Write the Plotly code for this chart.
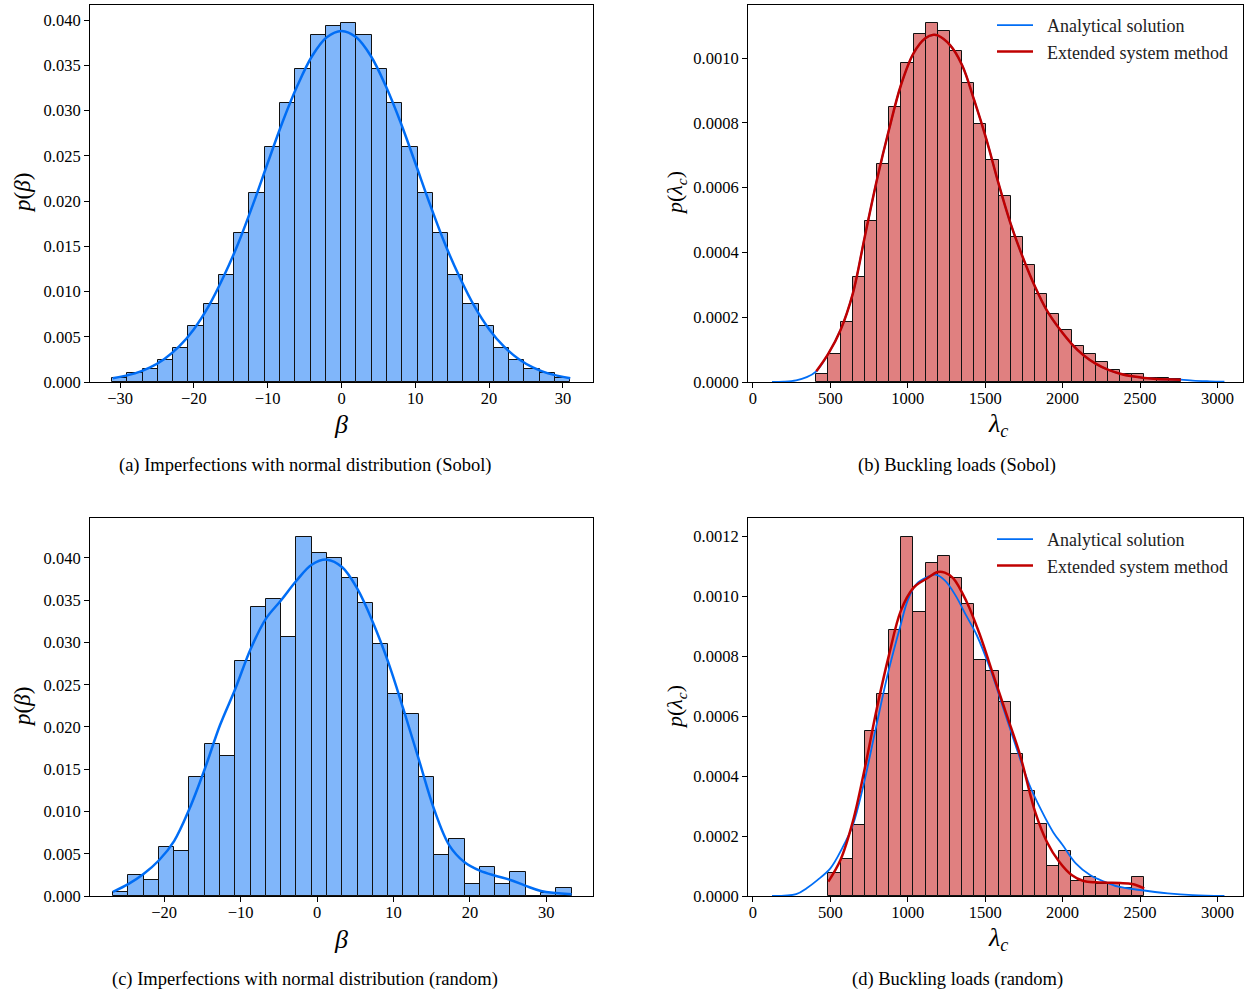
import plotly.graph_objects as go

W, H = 1244, 994

# ---------------- data ----------------
# (a) Imperfections, Sobol: histogram
a_bin_start = -31.1
a_bin_width = 2.07
a_density = [0.00048, 0.00096, 0.0014, 0.0024, 0.0038, 0.0062, 0.0086, 0.0118, 0.0165, 0.0209,
             0.0260, 0.0308, 0.0346, 0.0384, 0.0393, 0.0397, 0.0384, 0.0346, 0.0308, 0.0260,
             0.0209, 0.0165, 0.0118, 0.0086, 0.0062, 0.0038, 0.0024, 0.0014, 0.00096, 0.00048]
a_kde_x = [-31, -28, -26, -24, -22, -20, -18, -16, -14, -12, -10, -8, -6, -4, -2, 0,
           2, 4, 6, 8, 10, 12, 14, 16, 18, 20, 22, 24, 26, 28, 31]
a_kde_y = [0.00041, 0.00095, 0.00158, 0.00254, 0.00393, 0.00584, 0.00838, 0.0116, 0.0153, 0.0196,
           0.0242, 0.0287, 0.0327, 0.0360, 0.0381, 0.0388, 0.0381, 0.0360, 0.0327, 0.0287,
           0.0242, 0.0196, 0.0153, 0.0116, 0.00838, 0.00584, 0.00393, 0.00254, 0.00158, 0.00095, 0.00041]

# (b) Buckling loads, Sobol
b_bin_start = 409
b_bin_width = 78.5
b_density = [0.0000237, 0.0000865, 0.000185, 0.000324, 0.000497, 0.000674, 0.000848, 0.000986,
             0.001073, 0.001109, 0.001084, 0.001023, 0.000923, 0.000797, 0.000686, 0.000573,
             0.000448, 0.000360, 0.000273, 0.000210, 0.000162, 0.000111, 0.0000865, 0.0000628,
             0.0000381, 0.0000257, 0.0000237, 0.0000134, 0.0000113, 0.0000103]
b_ext_x = [409, 487, 565, 645, 722, 800, 878, 956, 1036, 1113, 1166, 1193, 1273, 1351, 1429,
           1509, 1586, 1664, 1742, 1822, 1898, 1978, 2058, 2135, 2213, 2292, 2371, 2449, 2527,
           2606, 2764]
b_ext_y = [0.000033, 0.0000875, 0.00016, 0.000273, 0.000448, 0.000623, 0.000778, 0.000917,
           0.001014, 0.001061, 0.001072, 0.00107, 0.00104, 0.000978, 0.00087, 0.000747, 0.000613,
           0.000489, 0.000386, 0.000294, 0.000221, 0.000165, 0.000118, 0.0000824, 0.0000566,
           0.0000381, 0.0000257, 0.0000175, 0.0000124, 0.0000093, 0.0000072]
b_ana_x = [123, 200, 279, 347, 409, 487, 565, 645, 722, 800, 878, 956, 1036, 1113, 1166, 1193,
           1273, 1351, 1429, 1509, 1586, 1664, 1742, 1822, 1898, 1978, 2058, 2135, 2213, 2292,
           2371, 2449, 2527, 2606, 2764, 2840, 2950, 3045]
b_ana_y = [0.0, 0.000001, 0.000005, 0.000015, 0.000033, 0.0000875, 0.00016, 0.000273, 0.000448,
           0.000623, 0.000778, 0.000917, 0.001014, 0.001061, 0.001072, 0.00107, 0.00104, 0.000978,
           0.00087, 0.000747, 0.000613, 0.000489, 0.000386, 0.000294, 0.000221, 0.000165,
           0.000118, 0.0000824, 0.0000566, 0.0000381, 0.0000257, 0.0000175, 0.0000124,
           0.0000093, 0.0000072, 0.000004, 0.000002, 0.000001]

# (c) Imperfections, random
c_bin_start = -26.7
c_bin_width = 2.0
c_density = [0.00043, 0.00245, 0.00193, 0.0058, 0.0053, 0.0141, 0.0180, 0.0166, 0.0278, 0.0342,
             0.0351, 0.0307, 0.0425, 0.0406, 0.0400, 0.0376, 0.0347, 0.0298, 0.0239, 0.0215,
             0.0141, 0.0048, 0.0068, 0.0014, 0.0034, 0.0014, 0.0028, 0.0, 0.0004, 0.0009]
c_kde_x = [-26.7, -24.7, -22.7, -20.7, -18.7, -16.7, -14.7, -12.7, -10.7, -8.7, -6.7, -4.7,
           -2.7, -0.7, 1.3, 3.3, 5.3, 7.3, 9.3, 11.3, 13.3, 15.3, 17.3, 19.3, 21.3, 23.3, 25.3,
           27.3, 29.3, 33.3]
c_kde_y = [0.0005, 0.0014, 0.0026, 0.0042, 0.0065, 0.0103, 0.0150, 0.0202, 0.0245, 0.0292,
           0.0328, 0.0350, 0.0373, 0.0392, 0.0398, 0.0389, 0.0363, 0.0324, 0.0277, 0.0221,
           0.0162, 0.0103, 0.0060, 0.0040, 0.0030, 0.0024, 0.0019, 0.0012, 0.0006, 0.0002]

# (d) Buckling loads, random
d_bin_start = 487
d_bin_width = 78.5
d_density = [0.0000755, 0.000125, 0.000236, 0.000549, 0.000675, 0.000886, 0.001198, 0.000947,
             0.00111, 0.001135, 0.001061, 0.000972, 0.000787, 0.000749, 0.000648, 0.000475,
             0.00035, 0.000239, 0.000101, 0.00015, 0.000051, 0.0000633, 0.0000388, 0.0000388,
             0.0000255, 0.0000633]
d_ana_x = [123, 279, 347, 416, 500, 576, 645, 714, 793, 874, 953, 1000, 1056, 1125, 1178, 1239,
           1308, 1376, 1445, 1531, 1617, 1703, 1782, 1862, 1940, 2000, 2085, 2177, 2268, 2360,
           2500, 2680, 2840, 3045]
d_ana_y = [0.0, 0.000006, 0.000026, 0.000053, 0.000092, 0.000159, 0.000236, 0.00037, 0.000558,
           0.000747, 0.000902, 0.000986, 0.00104, 0.001063, 0.001071, 0.001052, 0.001002,
           0.000936, 0.00087, 0.000759, 0.000626, 0.000492, 0.000375, 0.000286, 0.000212,
           0.00017, 0.000109, 0.00007, 0.000048, 0.000031, 0.00002, 0.000009, 0.000003, 0.0]
d_ext_x = [487, 565, 645, 722, 800, 878, 956, 1036, 1079, 1113, 1193, 1239, 1294, 1380, 1466,
           1552, 1639, 1725, 1822, 1898, 1978, 2058, 2135, 2213, 2292, 2371, 2449, 2527]
d_ext_y = [0.000048, 0.00012, 0.000248, 0.000425, 0.000625, 0.000802, 0.000952, 0.001027,
           0.001045, 0.001055, 0.00108, 0.001078, 0.001059, 0.000981, 0.00087, 0.000737,
           0.000603, 0.00047, 0.000281, 0.000181, 0.000114, 0.00007, 0.00005, 0.0000455,
           0.0000444, 0.0000433, 0.00004, 0.0000255]

captions = ["(a) Imperfections with normal distribution (Sobol)",
            "(b) Buckling loads (Sobol)",
            "(c) Imperfections with normal distribution (random)",
            "(d) Buckling loads (random)"]
legend_names = ["Analytical solution", "Extended system method"]

# ---------------- styling ----------------
BLUE = "#006DF5"
BLUE_FILL = "#80B6FA"
RED = "#C00000"
RED_FILL = "#E08080"
EDGE = "#111111"
SERIF = "Liberation Serif"
NB = "\u00a0\u00a0"  # small gap between legend line and text


def centers(start, width, n):
    return [start + width * (i + 0.5) for i in range(n)]


fig = go.Figure()


def add_hist(start, width, dens, fill, xa, ya):
    fig.add_trace(go.Bar(
        x=centers(start, width, len(dens)), y=dens, width=width,
        marker=dict(color=fill, line=dict(color=EDGE, width=1)),
        xaxis=xa, yaxis=ya, showlegend=False, hoverinfo="skip"))


def add_line(xs, ys, color, lw, xa, ya, name=None, legend=None):
    fig.add_trace(go.Scatter(
        x=xs, y=ys, mode="lines", line=dict(color=color, width=lw, shape="spline", smoothing=1.0),
        xaxis=xa, yaxis=ya, name=(NB + name) if name else None, showlegend=name is not None,
        legend=legend if legend else "legend"))


add_hist(a_bin_start, a_bin_width, a_density, BLUE_FILL, "x", "y")
add_line(a_kde_x, a_kde_y, BLUE, 2.5, "x", "y")

add_hist(b_bin_start, b_bin_width, b_density, RED_FILL, "x2", "y2")
add_line(b_ana_x, b_ana_y, BLUE, 1.8, "x2", "y2", legend_names[0], "legend")
add_line(b_ext_x, b_ext_y, RED, 2.5, "x2", "y2", legend_names[1], "legend")

add_hist(c_bin_start, c_bin_width, c_density, BLUE_FILL, "x3", "y3")
add_line(c_kde_x, c_kde_y, BLUE, 2.5, "x3", "y3")

add_hist(d_bin_start, d_bin_width, d_density, RED_FILL, "x4", "y4")
add_line(d_ana_x, d_ana_y, BLUE, 1.8, "x4", "y4", legend_names[0], "legend2")
add_line(d_ext_x, d_ext_y, RED, 2.5, "x4", "y4", legend_names[1], "legend2")

# axes geometry in pixels
LEFT_X = (90, 593)
RIGHT_X = (748, 1243)
TOP_Y = (5, 382)
BOT_Y = (518, 896)


def xdom(px):
    return [px[0] / W, px[1] / W]


def ydom(py):
    return [1 - py[1] / H, 1 - py[0] / H]


axis_common = dict(showline=True, linecolor="black", linewidth=1, mirror=True,
                   ticks="outside", ticklen=5, tickwidth=1, tickcolor="black",
                   showgrid=False, zeroline=False,
                   tickfont=dict(family=SERIF, size=16.5, color="black"))
xcommon = dict(ticklabelstandoff=-4, **axis_common)

fig.update_layout(
    xaxis=dict(domain=xdom(LEFT_X), anchor="y", range=[-34.08, 34.08],
               tickvals=[-30, -20, -10, 0, 10, 20, 30], **xcommon),
    yaxis=dict(domain=ydom(TOP_Y), anchor="x", range=[0, 0.04166],
               tickvals=[0, 0.005, 0.01, 0.015, 0.02, 0.025, 0.03, 0.035, 0.04],
               tickformat=".3f", **axis_common),
    xaxis2=dict(domain=xdom(RIGHT_X), anchor="y2", range=[-32, 3165],
                tickvals=[0, 500, 1000, 1500, 2000, 2500, 3000], **xcommon),
    yaxis2=dict(domain=ydom(TOP_Y), anchor="x2", range=[0, 0.001164],
                tickvals=[0, 0.0002, 0.0004, 0.0006, 0.0008, 0.001],
                tickformat=".4f", **axis_common),
    xaxis3=dict(domain=xdom(LEFT_X), anchor="y3", range=[-29.7, 36.1],
                tickvals=[-20, -10, 0, 10, 20, 30], **xcommon),
    yaxis3=dict(domain=ydom(BOT_Y), anchor="x3", range=[0, 0.04473],
                tickvals=[0, 0.005, 0.01, 0.015, 0.02, 0.025, 0.03, 0.035, 0.04],
                tickformat=".3f", **axis_common),
    xaxis4=dict(domain=xdom(RIGHT_X), anchor="y4", range=[-32, 3165],
                tickvals=[0, 500, 1000, 1500, 2000, 2500, 3000], **xcommon),
    yaxis4=dict(domain=ydom(BOT_Y), anchor="x4", range=[0, 0.00126],
                tickvals=[0, 0.0002, 0.0004, 0.0006, 0.0008, 0.001, 0.0012],
                tickformat=".4f", **axis_common),
    width=W, height=H,
    margin=dict(l=0, r=0, t=0, b=0, pad=0, autoexpand=False),
    paper_bgcolor="white", plot_bgcolor="white",
    barmode="overlay", bargap=0,
    font=dict(family=SERIF, color="black"),
    legend=dict(x=1233 / W, xanchor="right", y=1 - 7 / H, yanchor="top",
                font=dict(family=SERIF, size=18, color="#222"), bgcolor="rgba(255,255,255,0)",
                itemwidth=36, tracegroupgap=0),
    legend2=dict(x=1233 / W, xanchor="right", y=1 - 521 / H, yanchor="top",
                 font=dict(family=SERIF, size=18, color="#222"), bgcolor="rgba(255,255,255,0)",
                 itemwidth=36, tracegroupgap=0),
)

annotations = []


def ann(text, x, y, size, angle=0):
    annotations.append(dict(text=text, x=x / W, y=1 - y / H, xref="paper", yref="paper",
                            showarrow=False, textangle=angle, xanchor="center", yanchor="middle",
                            font=dict(family=SERIF, size=size, color="black")))


# axis labels
ann("<i>β</i>", 341, 425, 26)
ann("<i>λ<sub>c</sub></i>", 998, 425, 26)
ann("<i>β</i>", 341, 939, 26)
ann("<i>λ<sub>c</sub></i>", 998, 939, 26)
ann("<i>p</i>(<i>β</i>)", 22, 193, 23, -90)
ann("<i>p</i>(<i>λ<sub>c</sub></i>)", 676, 193, 22, -90)
ann("<i>p</i>(<i>β</i>)", 22, 707, 23, -90)
ann("<i>p</i>(<i>λ<sub>c</sub></i>)", 676, 707, 22, -90)
# captions
ann(captions[0], 305, 465, 18.5)
ann(captions[1], 957, 465, 18.5)
ann(captions[2], 305, 979, 18.5)
ann(captions[3], 957, 979, 18.5)

fig.update_layout(annotations=annotations)

fig.write_html("out.html")
